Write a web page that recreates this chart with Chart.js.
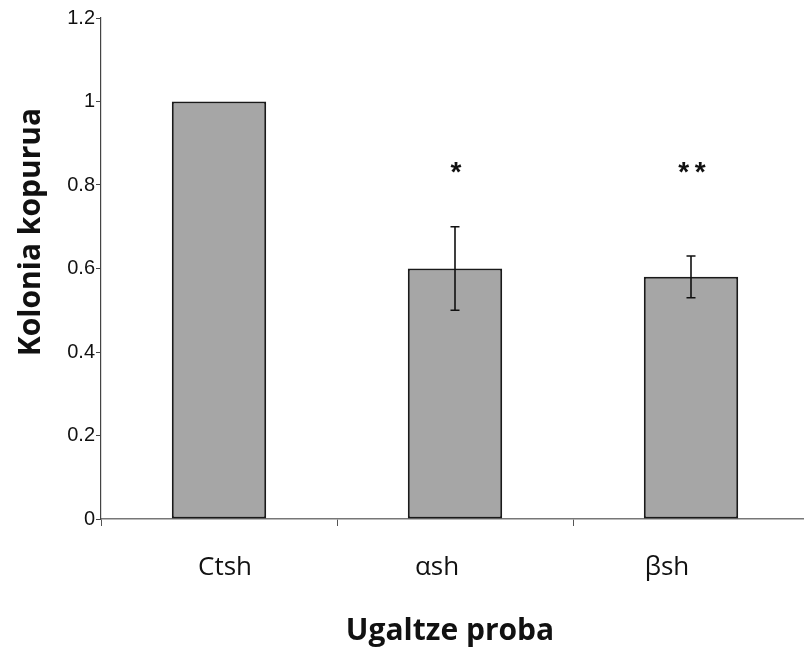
<!DOCTYPE html>
<html>
<head>
<meta charset="utf-8">
<script src="https://cdn.jsdelivr.net/npm/chart.js@4"></script>
<style>
  html, body { margin:0; padding:0; background:#fff; overflow:hidden; }
  #wrap { width:812px; height:654px; }
</style>
</head>
<body>
<div id="wrap"><canvas id="c" width="812" height="654"></canvas></div>
<script>
const categories = ['Ctsh', 'αsh', 'βsh'];
const values = [1.0, 0.60, 0.58];
const errors = [0, 0.10, 0.05];
const marks = ['', '*', '**'];
const markLevel = 0.84;
const yTicks = [0, 0.2, 0.4, 0.6, 0.8, 1, 1.2];

const xTitle = 'Ugaltze proba';
const yTitle = 'Kolonia kopurua';

// in the source picture the category texts sit a little off their bar centres
const labelShift = [6, -18, -24];
const titleFont = '"Open Sans", Lato, sans-serif';

// error bars, significance stars, category texts and the axis titles
const extras = {
  id: 'extras',
  afterDatasetsDraw(chart){
    const ctx = chart.ctx, y = chart.scales.y, x = chart.scales.x;
    const meta = chart.getDatasetMeta(0);
    ctx.save();
    ctx.strokeStyle = '#111';
    ctx.lineWidth = 1.6;
    meta.data.forEach((bar, i) => {
      if(!errors[i]) return;
      const top = y.getPixelForValue(values[i] + errors[i]);
      const bot = y.getPixelForValue(values[i] - errors[i]);
      ctx.beginPath();
      ctx.moveTo(bar.x, top); ctx.lineTo(bar.x, bot);
      ctx.moveTo(bar.x - 4.5, top); ctx.lineTo(bar.x + 4.5, top);
      ctx.moveTo(bar.x - 4.5, bot); ctx.lineTo(bar.x + 4.5, bot);
      ctx.stroke();
    });
    ctx.fillStyle = '#111';
    ctx.font = 'bold 28px "Liberation Sans", Arial, sans-serif';
    ctx.textAlign = 'center';
    ctx.textBaseline = 'middle';
    meta.data.forEach((bar, i) => {
      if(marks[i]) ctx.fillText(marks[i].split('').join('\u2009'), bar.x + 1, y.getPixelForValue(markLevel) + 5);
    });
    ctx.textBaseline = 'alphabetic';
    ctx.font = '26px ' + titleFont;
    categories.forEach((c, i) => {
      ctx.fillText(c, x.getPixelForValue(i) + labelShift[i], x.bottom - 135 + 56);
    });
    ctx.font = 'bold 30px ' + titleFont;
    ctx.fillText(xTitle, 450, 640);
    ctx.translate(40, 232);
    ctx.rotate(-Math.PI / 2);
    ctx.font = 'bold 30px ' + titleFont;
    ctx.fillText(yTitle, 0, 0);
    ctx.restore();
  }
};

new Chart(document.getElementById('c'), {
  type: 'bar',
  data: {
    labels: categories,
    datasets: [{
      data: values,
      backgroundColor: '#a6a6a6',
      borderColor: '#1a1a1a',
      borderWidth: 2,
      borderSkipped: false,
      barPercentage: 0.4,
      categoryPercentage: 1
    }]
  },
  options: {
    responsive: false,
    animation: false,
    layout: { padding: { top: 18, right: 3, left: 0, bottom: 0 } },
    plugins: { legend: { display: false }, tooltip: { enabled: false } },
    scales: {
      x: {
        afterFit(s){ s.height = 135; },
        border: { color: '#777', width: 1.5 },
        grid: { offset: true, drawOnChartArea: false, tickLength: 7, color: '#555' },
        ticks: { display: false }
      },
      y: {
        min: 0, max: 1.2,
        afterFit(s){ s.width = 101; },
        afterBuildTicks(s){ s.ticks = yTicks.map(v => ({ value: v })); },
        border: { color: '#444', width: 1.2 },
        grid: { drawOnChartArea: false, tickLength: 5, color: '#444' },
        ticks: {
          color: '#111', padding: 1,
          font: { family: '"Liberation Sans", Arial, sans-serif', size: 20 },
          callback: v => String(v)
        }
      }
    }
  },
  plugins: [extras]
});
</script>
</body>
</html>
